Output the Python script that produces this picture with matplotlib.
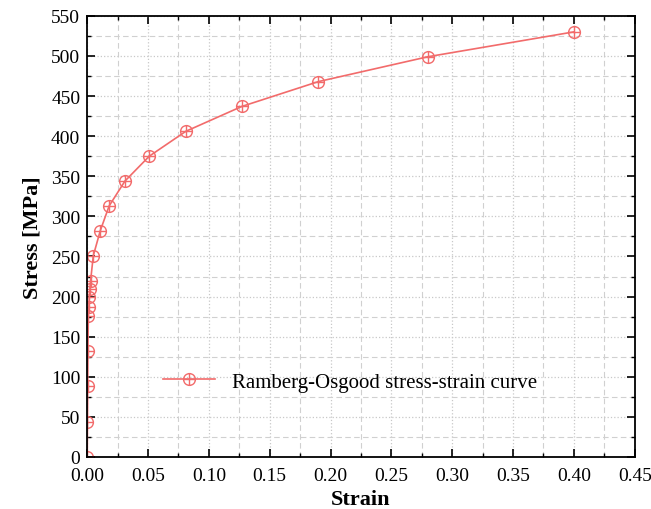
import numpy as np
import matplotlib.pyplot as plt
from matplotlib.path import Path
from matplotlib.ticker import MultipleLocator

# Ramberg-Osgood curve points
strain = [0.0, 0.0002, 0.0004, 0.0006, 0.0009, 0.0013, 0.0017, 0.0022, 0.0027,
          0.0050, 0.0107, 0.0180, 0.0310, 0.0510, 0.0810, 0.1270, 0.1900,
          0.2800, 0.4000]
stress = [0, 44, 88, 132, 176, 187, 199, 209, 219,
          251, 282, 313, 344, 375, 406, 437, 468,
          499, 530]

plt.rcParams['font.family'] = ['Liberation Serif', 'DejaVu Serif']

# circle with a cross inside
circ = Path.unit_circle()
verts = list(circ.vertices) + [(-1, 0), (1, 0), (0, -1), (0, 1)]
codes = list(circ.codes) + [Path.MOVETO, Path.LINETO, Path.MOVETO, Path.LINETO]
oplus = Path(verts, codes)

red = '#f26b6b'

fig = plt.figure(figsize=(6.51, 5.10), dpi=100)
ax = fig.add_axes([0.134, 0.102, 0.841, 0.865])

ax.plot(strain, stress, color=red, lw=1.2, marker=oplus, markersize=8.5,
        markerfacecolor='none', markeredgecolor=red, markeredgewidth=1.0,
        label='Ramberg-Osgood stress-strain curve')

ax.set_xlim(0, 0.45)
ax.set_ylim(0, 550)
ax.xaxis.set_major_locator(MultipleLocator(0.05))
ax.xaxis.set_minor_locator(MultipleLocator(0.025))
ax.yaxis.set_major_locator(MultipleLocator(50))
ax.yaxis.set_minor_locator(MultipleLocator(25))
ax.xaxis.set_major_formatter(lambda v, p: f'{v:.2f}')

ax.grid(which='major', color='#c8c8c8', linestyle=':', lw=0.9)
ax.grid(which='minor', color='#d0d0d0', linestyle=(0, (5, 3)), lw=0.8)

ax.tick_params(which='both', direction='in', top=True, right=True, labelsize=14)
ax.tick_params(which='major', length=6, width=1.2)
ax.tick_params(which='minor', length=3, width=1.0)
ax.tick_params(axis='x', pad=7)
ax.tick_params(axis='y', pad=5)
for s in ax.spines.values():
    s.set_linewidth(1.3)

ax.set_xlabel('Strain', fontsize=16, fontweight='bold', labelpad=4)
ax.set_ylabel('Stress [MPa]', fontsize=16, fontweight='bold', labelpad=6)

ax.legend(loc='center', bbox_to_anchor=(0.48, 0.17), frameon=False, fontsize=15,
          handlelength=2.5)

fig.savefig('out.png', dpi=100)
